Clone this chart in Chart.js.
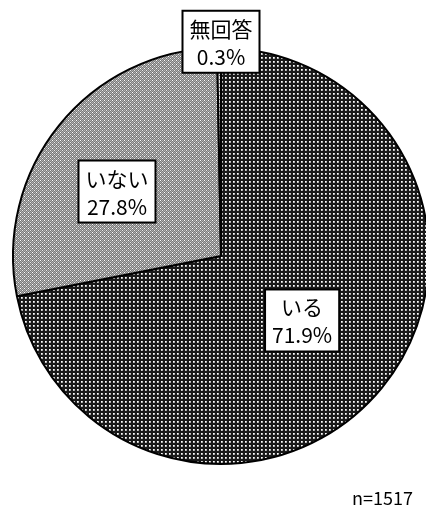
<!DOCTYPE html>
<html>
<head>
<meta charset="utf-8">
<script src="https://cdn.jsdelivr.net/npm/chart.js@4"></script>
<style>
  html, body { margin: 0; padding: 0; background: #fff; overflow: hidden; }
  #wrap { position: relative; width: 426px; height: 508px; overflow: hidden; }
  canvas { position: absolute; left: 0; top: 0; }
</style>
</head>
<body>
<div id="wrap"><canvas id="pieChart" width="442" height="508"></canvas></div>
<script>
// データ
const categories = ['いる', 'いない', '無回答'];
const percents = [71.9, 27.8, 0.3];
const sampleNote = 'n=1517';

// ラベルの位置（半径に対する比率）
const labelOffsets = [[0.39, 0.31], [-0.50, -0.31], [0, -1.03]];

function makePattern(size, draw) {
    let c = document.createElement('canvas');
    c.width = size; c.height = size;
    let g = c.getContext('2d');
    draw(g);
    return g.createPattern(c, 'repeat');
}
function px(g, x, y, col) { g.fillStyle = col; g.fillRect(x, y, 1, 1); }

let ctx = document.getElementById('pieChart').getContext('2d');

// いる: 黒地に白い点
let darkDots = makePattern(4, function(g) {
    g.fillStyle = '#1a1a1a'; g.fillRect(0, 0, 4, 4);
    px(g, 1, 1, '#ffffff'); px(g, 2, 1, '#c8c8c8');
    px(g, 1, 2, '#c8c8c8'); px(g, 2, 2, '#a0a0a0');
});
// いない: 灰色の市松模様
let greyChecks = makePattern(4, function(g) {
    for (let y = 0; y < 4; y++) {
        for (let x = 0; x < 4; x++) {
            px(g, x, y, (x + y) % 2 ? '#7a7a7a' : '#b0b0b0');
        }
    }
    px(g, 0, 0, '#ffffff');
    px(g, 2, 2, '#e8e8e8');
});
// 無回答: 白地に灰色の点
let lightDots = makePattern(4, function(g) {
    g.fillStyle = '#e0e0e0'; g.fillRect(0, 0, 4, 4);
    px(g, 1, 1, '#666666'); px(g, 3, 3, '#666666');
});

const labelPlugin = {
    id: 'boxLabels',
    afterDatasetsDraw(chart) {
        let c = chart.ctx;
        let arcs = chart.getDatasetMeta(0).data;
        c.save();
        c.font = '21px "Noto Sans CJK JP", sans-serif';
        c.textAlign = 'center';
        c.textBaseline = 'middle';
        arcs.forEach(function(arc, i) {
            let r = arc.outerRadius;
            let cx = arc.x + labelOffsets[i][0] * r;
            let cy = arc.y + labelOffsets[i][1] * r;
            let lines = [categories[i], percents[i].toFixed(1) + '%'];
            let w = Math.max(c.measureText(lines[0]).width, c.measureText(lines[1]).width) + 14;
            let h = 62;
            c.fillStyle = '#ffffff';
            c.fillRect(cx - w / 2, cy - h / 2, w, h);
            c.lineWidth = 2;
            c.strokeStyle = '#000000';
            c.strokeRect(cx - w / 2, cy - h / 2, w, h);
            c.fillStyle = '#000000';
            c.fillText(lines[0], cx, cy - 13);
            c.fillText(lines[1], cx, cy + 15);
        });
        c.font = '18px "Noto Sans CJK JP", sans-serif';
        c.textAlign = 'right';
        c.fillText(sampleNote, 413, 498);
        c.restore();
    }
};

new Chart(ctx, {
    type: 'pie',
    data: {
        labels: categories,
        datasets: [{
            data: percents,
            backgroundColor: [darkDots, greyChecks, lightDots],
            borderColor: '#000000',
            borderWidth: 2
        }]
    },
    options: {
        responsive: false,
        animation: false,
        layout: { padding: { top: 47, bottom: 43, left: 0, right: 0 } },
        plugins: {
            legend: { display: false },
            tooltip: { enabled: false }
        }
    },
    plugins: [labelPlugin]
});
</script>
</body>
</html>
